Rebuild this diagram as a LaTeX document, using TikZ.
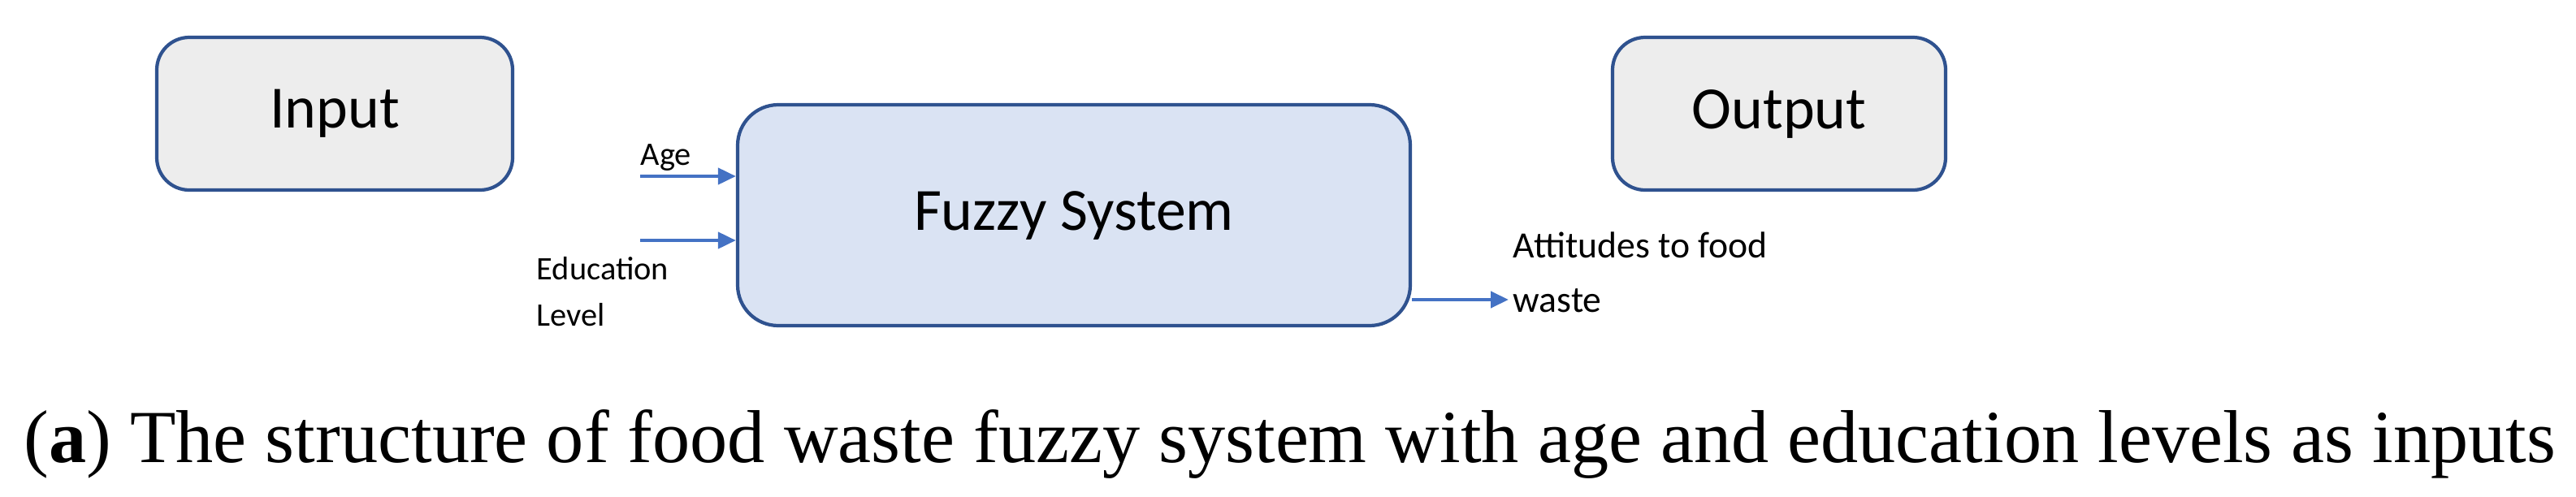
\documentclass[tikz,border=0pt]{standalone}
\usepackage{fontspec}
\setmainfont{Liberation Serif}
\newfontfamily\calib{Carlito}
\usetikzlibrary{arrows.meta}
\definecolor{boxline}{HTML}{2F528F}
\definecolor{boxgray}{HTML}{EDEDED}
\definecolor{boxblue}{HTML}{DAE3F3}
\definecolor{arrowblue}{HTML}{4472C4}
\tikzset{
    block/.style={draw=boxline, line width=1.2pt, rounded corners=0.4cm, fill=boxgray, font=\calib\fontsize{21}{25}\selectfont},
    signal/.style={draw=arrowblue, line width=1.2pt, -{Triangle[length=0.22cm, width=0.2cm]}},
    lbl/.style={font=\calib\fontsize{11.5}{16}\selectfont, inner sep=0pt}
}
\begin{document}
\begin{tikzpicture}
            \useasboundingbox (0, 0) rectangle (31.71, 6.11);

            \node[block, minimum width=4.38cm, minimum height=1.88cm] (input) at (4.12, 4.71) {Input\hspace{0.7cm}};
            \node[block, fill=boxblue, rounded corners=0.5cm, minimum width=8.28cm, minimum height=2.72cm] (fuzzy) at (13.22, 3.46) {Fuzzy System};
            \node[block, minimum width=4.1cm, minimum height=1.88cm] (output) at (21.9, 4.71) {Output};

            \coordinate (agein) at (7.88, 3.94);
            \coordinate (eduin) at (7.88, 3.15);
            \coordinate (attout) at (18.57, 2.42);

            \draw[signal] (agein) -- (agein -| fuzzy.west);
            \draw[signal] (eduin) -- (eduin -| fuzzy.west);
            \draw[signal] (attout -| fuzzy.east) -- (attout);

            \node[lbl, anchor=south west] (age) at (7.88, 4.0) {Age};
            \node[lbl, anchor=north west, align=left] (edu) at (6.6, 2.95) {Education\\Level};
            \node[lbl, anchor=west, align=left, font=\calib\fontsize{13}{19}\selectfont] (att) at (18.62, 2.76) {Attitudes to food\\waste};

            \node (caption) at (15.88, 0.64) {\resizebox{31.16cm}{!}{(\textbf{a}) The structure of food waste fuzzy system with age and education levels as inputs}};
        \end{tikzpicture}
\end{document}
